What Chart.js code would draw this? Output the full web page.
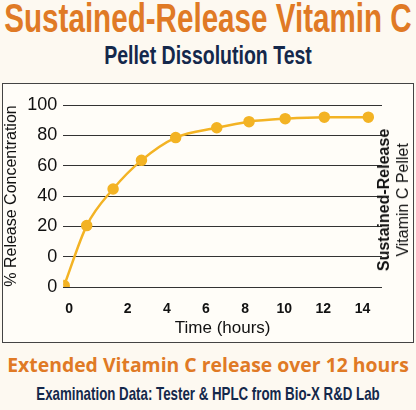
<!DOCTYPE html>
<html><head><meta charset="utf-8">
<script src="https://cdn.jsdelivr.net/npm/chart.js@4"></script>
<style>
body{margin:0;width:416px;height:410px;background:#fdf9f1;font-family:"Liberation Sans",sans-serif;overflow:hidden;position:relative}
.t{position:absolute;left:0;width:416px;height:0;white-space:nowrap}
.t span{position:absolute;left:208px;top:0;transform:translateX(-50%) scaleX(var(--s))}
#t1{top:-4px;font-size:40px;font-weight:bold;color:#e07a25;--s:0.74}
#t2{top:41px;font-size:25px;font-weight:bold;color:#14284b;--s:0.78}
#box{position:absolute;left:2px;top:83px;width:412px;height:260px;border:1.5px solid #444;background:#fffdf8;box-sizing:border-box}
#c{position:absolute;left:0;top:83px}
#t3{top:351px;font-size:20px;font-weight:bold;color:#e07a25;font-family:"Open Sans",sans-serif;--s:0.97}
#t4{top:383px;font-size:19px;font-weight:bold;color:#14284b;--s:0.7}
#rt{position:absolute;left:393px;top:200px;width:0;height:0}
#rt div{position:absolute;transform:translate(-50%,-50%) rotate(-90deg);white-space:nowrap;text-align:center;font-size:16px;line-height:19px;color:#111}
</style></head><body>
<div class="t" id="t1"><span>Sustained-Release Vitamin C</span></div>
<div class="t" id="t2"><span>Pellet Dissolution Test</span></div>
<div id="box"></div>
<canvas id="c" width="416" height="258"></canvas>
<div id="rt"><div><b>Sustained-Release</b><br>Vitamin C Pellet</div></div>
<div class="t" id="t3"><span>Extended Vitamin C release over 12 hours</span></div>
<div class="t" id="t4"><span>Examination Data: Tester &amp; HPLC from Bio-X R&amp;D Lab</span></div>
<script>
const timeHours=[-1.25,-0.1,1.25,2.7,4.45,6.55,8.2,10.05,12.05,14.3];
const releasePct=[-19,20.5,44.6,63.5,78.5,85,89,91,92,92];
const xTicks=[-1,2,4,6,8,10,12,14];
const xTickLabels=['0','2','4','6','8','10','12','14'];
const yTicks=[-20,0,20,40,60,80,100];
const yTickLabels=['0','0','20','40','60','80','100'];
const c=document.getElementById('c');
c.style.width='416px';c.style.height='258px';
new Chart(c,{type:'line',
data:{datasets:[{data:timeHours.map((x,i)=>({x,y:releasePct[i]})),borderColor:'#f3b324',backgroundColor:'#f3b324',borderWidth:2.5,pointRadius:4.5,tension:0.4,cubicInterpolationMode:'monotone'}]},
options:{responsive:false,animation:false,devicePixelRatio:1,
layout:{padding:{left:2,right:34,top:22,bottom:0}},
plugins:{legend:{display:false},tooltip:{enabled:false}},
scales:{
x:{type:'linear',min:-1.3,max:15,afterBuildTicks:a=>{a.ticks=xTicks.map(v=>({value:v}))},
 afterFit:a=>{a.height=54},
 grid:{display:false},border:{display:false},
 ticks:{callback:(v)=>xTickLabels[xTicks.indexOf(v)],color:'#111',font:{size:14,weight:'bold',family:'Liberation Sans'},padding:6},
 title:{display:true,text:'Time (hours)',color:'#111',font:{size:17,family:'Liberation Sans'},padding:{top:8,bottom:2}}},
y:{min:-20,max:100,afterBuildTicks:a=>{a.ticks=yTicks.map(v=>({value:v}))},
 grid:{color:'#333',lineWidth:1,drawTicks:false},border:{display:false},
 ticks:{callback:(v)=>yTickLabels[yTicks.indexOf(v)],color:'#111',font:{size:18,family:'Liberation Sans'},padding:6},
 title:{display:true,text:'% Release Concentration',color:'#111',font:{size:16,family:'Liberation Sans'},padding:0}}
}}});
</script></body></html>
